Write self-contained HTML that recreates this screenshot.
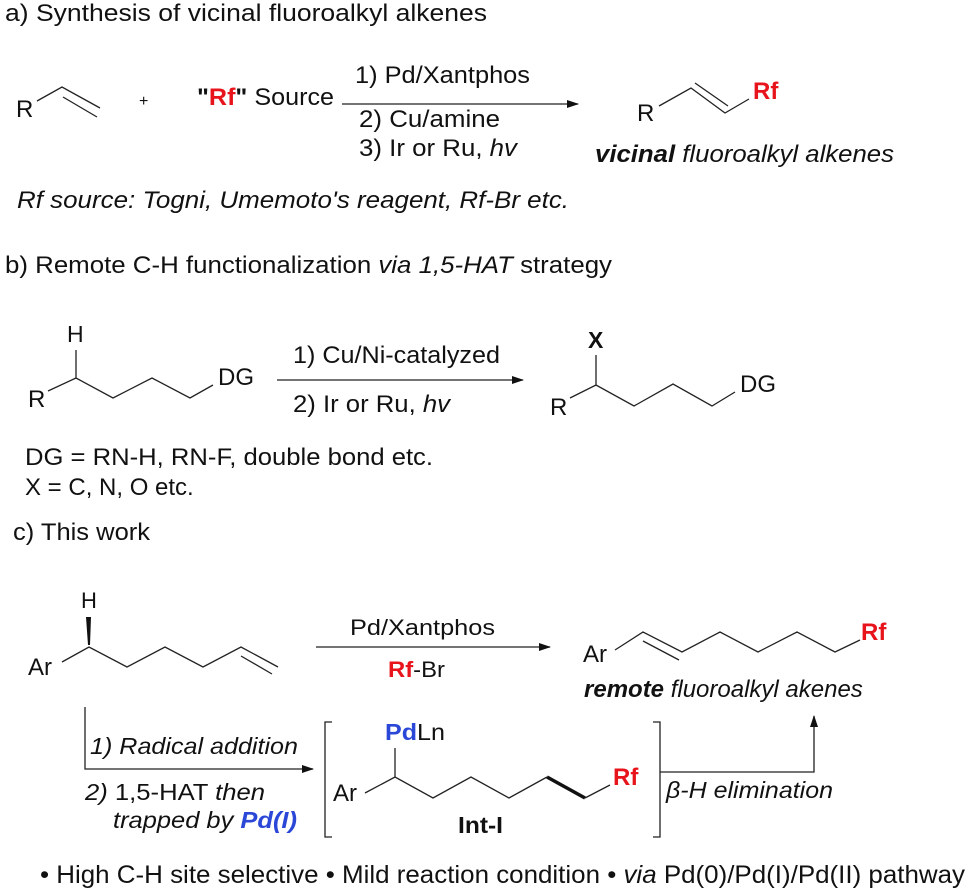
<!DOCTYPE html>
<html><head><meta charset="utf-8"><style>
html,body{margin:0;padding:0;background:#fff;}
svg{display:block;font-family:"Liberation Sans",Arial,sans-serif;}
.r{fill:#e8141c;font-weight:bold}
.b{fill:#2a47d8;font-weight:bold}
</style></head><body>
<svg width="969" height="895" viewBox="0 0 969 895" xmlns="http://www.w3.org/2000/svg" font-size="21" fill="#111">
<defs><marker id="ah" markerWidth="12" markerHeight="8" refX="11" refY="4" orient="auto" markerUnits="userSpaceOnUse"><path d="M0,0 L12,4 L0,8 Z" fill="#111"/></marker></defs>
<g stroke="#222" stroke-width="1.3" fill="none">
<!-- a -->
<path d="M37,101 L62,87 L100,108 M63,97 L97,117"/>
<line x1="342" y1="104" x2="578" y2="104" marker-end="url(#ah)"/>
<path d="M659,106 L691,88 L725,113 L749,99 M695,83 L728,106"/>
<!-- b -->
<path d="M76,350 L76,378 M48,391 L76,378 L113,398 L152,378 L190,398 L213,385"/>
<line x1="277" y1="380" x2="523" y2="380" marker-end="url(#ah)"/>
<path d="M596,355 L596,385 M570,398 L596,385 L634,406 L673,384 L712,406 L735,392"/>
<!-- c -->
<path d="M62,662 L89,647 L127,667 L165,647 L203,667 L241,647 L278,667 M241,656 L272,674"/>
<line x1="316" y1="647" x2="550" y2="647" marker-end="url(#ah)"/>
<path d="M615,650 L643,632 L682,652 L720,632 L758,652 L797,632 L835,652 L860,640 M643,641 L679,660"/>
<polyline points="660,772 814,772 814,716" marker-end="url(#ah)"/>
<path d="M653,722 L660,722 L660,837 L653,837"/>
<path d="M332,722 L325,722 L325,837 L332,837"/>
<polyline points="85,707 85,769 313,769" marker-end="url(#ah)"/>
<path d="M365,793 L395,777 L433,798 L471,777 L509,798 L547,777 M585,798 L610,785 M395,748 L395,777"/>
</g>
<path d="M86,617 L91,617 L90,645 L88,645 Z" fill="#111"/>
<path d="M547,777 L585,798" stroke="#111" stroke-width="3.5"/>
<!-- text a -->
<text x="5" y="21" font-size="24" textLength="482" lengthAdjust="spacingAndGlyphs">a)  Synthesis of  vicinal fluoroalkyl alkenes</text>
<text x="16" y="117" font-size="24">R</text>
<text x="139" y="106" font-size="16">+</text>
<text x="197" y="105" font-size="24" textLength="137" lengthAdjust="spacingAndGlyphs"><tspan font-weight="bold">"</tspan><tspan class="r">Rf</tspan><tspan font-weight="bold">"</tspan> Source</text>
<text x="355" y="83" font-size="24" textLength="175" lengthAdjust="spacingAndGlyphs">1) Pd/Xantphos</text>
<text x="359" y="127" font-size="24" textLength="141" lengthAdjust="spacingAndGlyphs">2) Cu/amine</text>
<text x="359" y="156" font-size="24" textLength="158" lengthAdjust="spacingAndGlyphs">3) Ir or Ru, <tspan font-style="italic">hv</tspan></text>
<text x="637" y="121" font-size="24">R</text>
<text x="753" y="99" class="r" font-size="24">Rf</text>
<text x="595" y="162" font-size="24" font-style="italic" textLength="299" lengthAdjust="spacingAndGlyphs"><tspan font-weight="bold">vicinal</tspan> fluoroalkyl alkenes</text>
<text x="17" y="208" font-size="24" font-style="italic" textLength="552" lengthAdjust="spacingAndGlyphs">Rf source: Togni, Umemoto's reagent, Rf-Br etc.</text>
<!-- text b -->
<text x="5" y="273" font-size="24" textLength="607" lengthAdjust="spacingAndGlyphs">b) Remote C-H functionalization <tspan font-style="italic">via 1,5-HAT</tspan> strategy</text>
<text x="67" y="342" font-size="23">H</text>
<text x="28" y="407" font-size="24">R</text>
<text x="218" y="385" font-size="24">DG</text>
<text x="293" y="363" font-size="24" textLength="207" lengthAdjust="spacingAndGlyphs">1) Cu/Ni-catalyzed</text>
<text x="293" y="412" font-size="24" textLength="157" lengthAdjust="spacingAndGlyphs">2) Ir or Ru, <tspan font-style="italic">hv</tspan></text>
<text x="588" y="348" font-weight="bold" font-size="23">X</text>
<text x="550" y="415" font-size="24">R</text>
<text x="740" y="392" font-size="24">DG</text>
<text x="25" y="465" font-size="24" textLength="408" lengthAdjust="spacingAndGlyphs">DG = RN-H, RN-F, double bond etc.</text>
<text x="25" y="495" font-size="24">X = C, N, O etc.</text>
<!-- text c -->
<text x="13" y="540" font-size="24" textLength="137" lengthAdjust="spacingAndGlyphs">c) This work</text>
<text x="81" y="608" font-size="22">H</text>
<text x="28" y="675" font-size="24">Ar</text>
<text x="350" y="635" font-size="22" textLength="145" lengthAdjust="spacingAndGlyphs">Pd/Xantphos</text>
<text x="388" y="677" font-size="22" textLength="57" lengthAdjust="spacingAndGlyphs"><tspan class="r">Rf</tspan>-Br</text>
<text x="583" y="662" font-size="24">Ar</text>
<text x="861" y="640" class="r" font-size="24">Rf</text>
<text x="584" y="697" font-size="24" font-style="italic"><tspan font-weight="bold">remote</tspan> fluoroalkyl akenes</text>
<text x="666" y="798" font-size="23" font-style="italic" textLength="167" lengthAdjust="spacingAndGlyphs">β-H elimination</text>
<text x="90" y="754" font-size="23" font-style="italic" textLength="208" lengthAdjust="spacingAndGlyphs">1) Radical addition</text>
<text x="85" y="800" font-size="23" textLength="180" lengthAdjust="spacingAndGlyphs"><tspan font-style="italic">2)</tspan> 1,5-HAT <tspan font-style="italic">then</tspan></text>
<text x="113" y="828" font-size="23" font-style="italic" textLength="184" lengthAdjust="spacingAndGlyphs">trapped by <tspan class="b">Pd(I)</tspan></text>
<text x="385" y="740" font-size="23" textLength="60" lengthAdjust="spacingAndGlyphs"><tspan class="b">Pd</tspan>Ln</text>
<text x="333" y="801" font-size="24">Ar</text>
<text x="613" y="785" class="r" font-size="24">Rf</text>
<text x="458" y="833" font-weight="bold" font-size="23" textLength="45" lengthAdjust="spacingAndGlyphs">Int-I</text>
<text x="40" y="883" font-size="25" textLength="925" lengthAdjust="spacingAndGlyphs">• High C-H site selective  • Mild reaction condition • <tspan font-style="italic">via</tspan> Pd(0)/Pd(I)/Pd(II) pathway</text>
</svg>
</body></html>
